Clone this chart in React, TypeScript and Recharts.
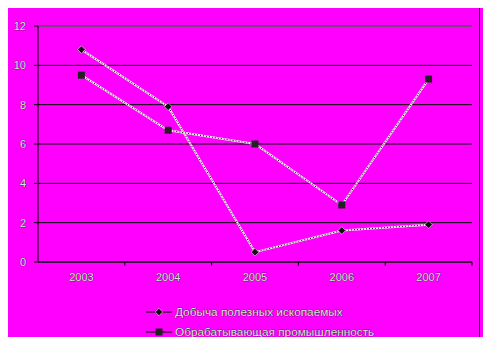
import React from "react";
import { LineChart, Line, XAxis, YAxis, CartesianGrid, ReferenceLine, Legend } from "recharts";

const years = ["2003", "2004", "2005", "2006", "2007"];
const mining = [10.8, 7.9, 0.5, 1.6, 1.9];
const manufacturing = [9.5, 6.7, 6.0, 2.9, 9.3];
const yTicks = [0, 2, 4, 6, 8, 10, 12];
const seriesNames = ["Добыча полезных ископаемых", "Обрабатывающая промышленность"];

const data = years.map((y, i) => ({ year: y, mining: mining[i], manufacturing: manufacturing[i] }));

const W = 491;
const H = 345;
const M = { top: 26, right: 19, left: 0, bottom: 53 };
const Y_W = 38;
const PLOT_W = W - M.left - M.right - Y_W;
const BAND = PLOT_W / years.length;

const FONT = "'Liberation Sans', Arial, sans-serif";
const textStyle = { fill: "#e0e0e0", stroke: "#111", strokeWidth: 0.55, paintOrder: "stroke" } as any;

const Diamond = (props: any) => {
  const { cx, cy } = props;
  if (cx == null || cy == null) return null;
  const r = 3.8;
  return <polygon points={`${cx},${cy - r} ${cx + r},${cy} ${cx},${cy + r} ${cx - r},${cy}`} fill="#111" stroke="#fff" strokeWidth={0.5} />;
};

const Square = (props: any) => {
  const { cx, cy } = props;
  if (cx == null || cy == null) return null;
  return <rect x={cx - 3.5} y={cy - 3.5} width={7} height={7} fill="#222" />;
};

const XTick = (props: any) => {
  const { x, y, payload } = props;
  return (
    <g>
      <line x1={x + BAND / 2} x2={x + BAND / 2} y1={y} y2={y + 4} stroke="#000" />
      <text x={x} y={y + 19} textAnchor="middle" fontSize={11} fontFamily={FONT} {...textStyle}>
        {payload.value}
      </text>
    </g>
  );
};

const YTick = (props: any) => {
  const { x, y, payload } = props;
  return (
    <text x={x - 6} y={y + 4} textAnchor="end" fontSize={11} fontFamily={FONT} {...textStyle}>
      {payload.value}
    </text>
  );
};

const LegendContent = () => (
  <svg width={260} height={44}>
    {seriesNames.map((name, i) => {
      const cy = 12 + i * 20;
      return (
        <g key={name}>
          <line x1={6} x2={32} y1={cy} y2={cy} stroke="#000" />
          {i === 0 ? <Diamond cx={19} cy={cy} /> : <Square cx={19} cy={cy} />}
          <text x={35} y={cy + 4} fontSize={11.8} fontFamily={FONT} {...textStyle}>
            {name}
          </text>
        </g>
      );
    })}
  </svg>
);

export default function App() {
  return (
    <div style={{ position: "relative", margin: -8, width: W, height: H, background: "#ff00ff", overflow: "hidden" }}>
      <div style={{ position: "absolute", left: 5, top: 7, width: 475, height: 334, border: "1px solid #000", boxSizing: "border-box" }} />
      <div style={{ position: "absolute", left: 0, top: 0 }}>
        <LineChart width={W} height={H} data={data} margin={M}>
          <CartesianGrid horizontal vertical={false} stroke="#000" strokeWidth={1} />
          <ReferenceLine y={12} stroke="#808080" />
          <XAxis
            dataKey="year"
            height={30}
            padding={{ left: BAND / 2, right: BAND / 2 }}
            tickLine={false}
            tickSize={0}
            tickMargin={0}
            axisLine={{ stroke: "#000" }}
            tick={<XTick />}
            interval={0}
          />
          <YAxis
            width={Y_W}
            domain={[0, 12]}
            ticks={yTicks}
            tickSize={4}
            tickLine={{ stroke: "#000" }}
            axisLine={{ stroke: "#000" }}
            tick={<YTick />}
          />
          <YAxis yAxisId="r" orientation="right" width={0} tick={false} tickLine={false} axisLine={{ stroke: "#808080" }} />
          <Line dataKey="mining" stroke="#e8e8e8" strokeWidth={2} dot={false} isAnimationActive={false} legendType="none" />
          <Line dataKey="mining" stroke="#000" strokeWidth={1} strokeDasharray="1 2" dot={<Diamond />} isAnimationActive={false} />
          <Line dataKey="manufacturing" stroke="#e8e8e8" strokeWidth={2} dot={false} isAnimationActive={false} legendType="none" />
          <Line dataKey="manufacturing" stroke="#000" strokeWidth={1} strokeDasharray="1 2" dot={<Square />} isAnimationActive={false} />
          <Legend
            layout="vertical"
            align="center"
            verticalAlign="middle"
            content={<LegendContent />}
            wrapperStyle={{ position: "absolute", top: 300, left: 140, width: 260, height: 44 }}
          />
        </LineChart>
      </div>
    </div>
  );
}
